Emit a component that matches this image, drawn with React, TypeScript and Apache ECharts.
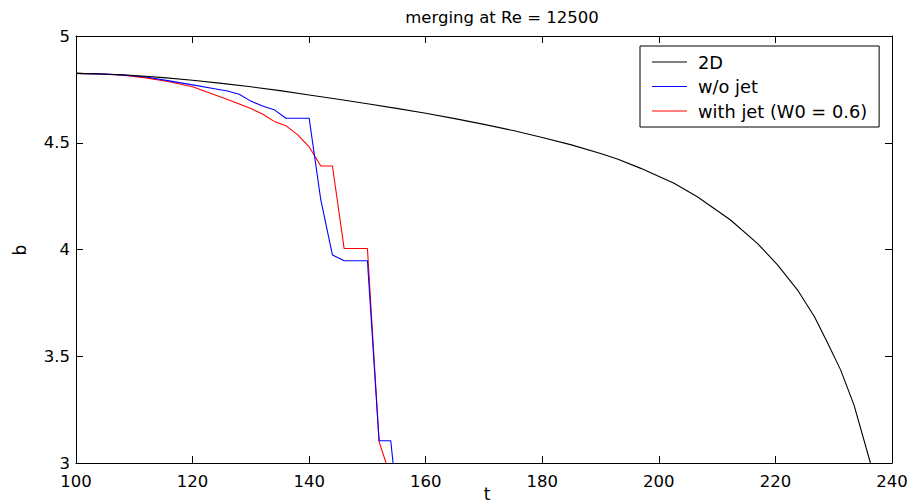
import React, { useEffect, useRef } from "react";
import * as echarts from "echarts";

const T_2D = [100, 105, 110, 115, 120, 125, 130, 135, 140, 145, 150, 155, 160, 165, 170, 175, 180, 185, 190, 193, 196.9, 202.6, 206.6, 212.3, 216.9, 220.4, 223.8, 226.7, 229, 231.2, 233.5, 236.3];
const B_2D = [4.825, 4.822, 4.815, 4.805, 4.793, 4.778, 4.762, 4.744, 4.724, 4.704, 4.683, 4.661, 4.638, 4.613, 4.586, 4.557, 4.525, 4.49, 4.45, 4.423, 4.38, 4.31, 4.247, 4.138, 4.029, 3.927, 3.81, 3.685, 3.56, 3.435, 3.27, 3.0];

const T_NOJET = [100, 104, 108, 112, 116, 120, 124, 126, 128, 130, 132, 134, 136, 138, 140, 142, 144, 146, 148, 150, 152, 154, 154.4];
const B_NOJET = [4.825, 4.822, 4.818, 4.808, 4.79, 4.771, 4.752, 4.742, 4.727, 4.695, 4.672, 4.655, 4.615, 4.615, 4.615, 4.232, 3.974, 3.947, 3.947, 3.947, 3.104, 3.104, 3.0];

const T_JET = [100, 104, 108, 112, 116, 120, 122, 124, 126, 128, 130, 132, 134, 136, 138, 140, 142, 144, 146, 148, 150, 152, 153.2];
const B_JET = [4.825, 4.822, 4.816, 4.804, 4.786, 4.762, 4.742, 4.722, 4.703, 4.682, 4.66, 4.635, 4.6, 4.58, 4.538, 4.481, 4.391, 4.391, 4.005, 4.005, 4.005, 3.1, 3.0];

const SERIES_NAMES = ["2D", "w/o jet", "with jet (W0 = 0.6)"];
const SERIES_COLORS = ["#000000", "#0000ff", "#ff0000"];

const FONT = "DejaVu Sans";

export default function App() {
  const ref = useRef<HTMLDivElement>(null);
  useEffect(() => {
    if (!ref.current) return;
    const chart = echarts.init(ref.current, null, { renderer: "svg" });
    const toPairs = (t: number[], b: number[]) => t.map((x, i) => [x, b[i]]);
    const datasets = [toPairs(T_2D, B_2D), toPairs(T_NOJET, B_NOJET), toPairs(T_JET, B_JET)];
    const axisCommon = {
      axisLine: { show: true, lineStyle: { color: "#000", width: 1 } },
      axisTick: { show: true, inside: true, length: 7, lineStyle: { color: "#000" } },
      splitLine: { show: false },
    };
    chart.setOption({
      animation: false,
      backgroundColor: "#fff",
      title: {
        text: "merging at Re = 12500",
        left: 497,
        top: 4,
        textAlign: "center",
        textStyle: { fontFamily: FONT, fontSize: 16.5, fontWeight: "normal", color: "#000" },
      },
      grid: { left: 76, right: 21, top: 36, bottom: 41 },
      legend: {
        data: SERIES_NAMES,
        orient: "vertical",
        left: 640,
        top: 46,
        padding: [7, 12, 7, 12],
        icon: "rect",
        itemWidth: 35,
        itemHeight: 1.2,
        itemGap: 6.5,
        borderColor: "#000",
        borderWidth: 1,
        borderRadius: 0,
        backgroundColor: "#fff",
        textStyle: { fontFamily: FONT, fontSize: 17.8, color: "#000", lineHeight: 18, padding: [0, 0, 0, 6] },
      },
      xAxis: [
        {
          type: "value",
          min: 100,
          max: 240,
          interval: 20,
          position: "bottom",
          ...axisCommon,
          axisLabel: { fontFamily: FONT, fontSize: 16.5, color: "#000", margin: 11, lineHeight: 15 },
        },
        {
          type: "value",
          min: 100,
          max: 240,
          interval: 20,
          position: "top",
          ...axisCommon,
          axisLabel: { show: false },
        },
      ],
      yAxis: [
        {
          type: "value",
          min: 3,
          max: 5,
          interval: 0.5,
          position: "left",
          ...axisCommon,
          axisLabel: { fontFamily: FONT, fontSize: 16.5, color: "#000", margin: 6, lineHeight: 15 },
        },
        {
          type: "value",
          min: 3,
          max: 5,
          interval: 0.5,
          position: "right",
          ...axisCommon,
          axisLabel: { show: false },
        },
      ],
      graphic: [
        {
          type: "text",
          x: 487,
          y: 494,
          style: { text: "t", fontFamily: FONT, fontSize: 17, fill: "#000", align: "center", verticalAlign: "middle" },
        },
        {
          type: "text",
          x: 20,
          y: 250,
          rotation: Math.PI / 2,
          style: { text: "b", fontFamily: FONT, fontSize: 17, fill: "#000", align: "center", verticalAlign: "middle" },
        },
      ],
      series: datasets.map((d, i) => ({
        name: SERIES_NAMES[i],
        type: "line",
        data: d,
        xAxisIndex: 0,
        yAxisIndex: 0,
        symbol: "none",
        smooth: false,
        clip: true,
        color: SERIES_COLORS[i],
        itemStyle: { color: SERIES_COLORS[i] },
        lineStyle: { color: SERIES_COLORS[i], width: 1.1 },
        z: 5 - i,
      })),
    });
    return () => chart.dispose();
  }, []);
  return <div ref={ref} style={{ position: "fixed", left: 0, top: 0, width: 913, height: 504 }} />;
}
